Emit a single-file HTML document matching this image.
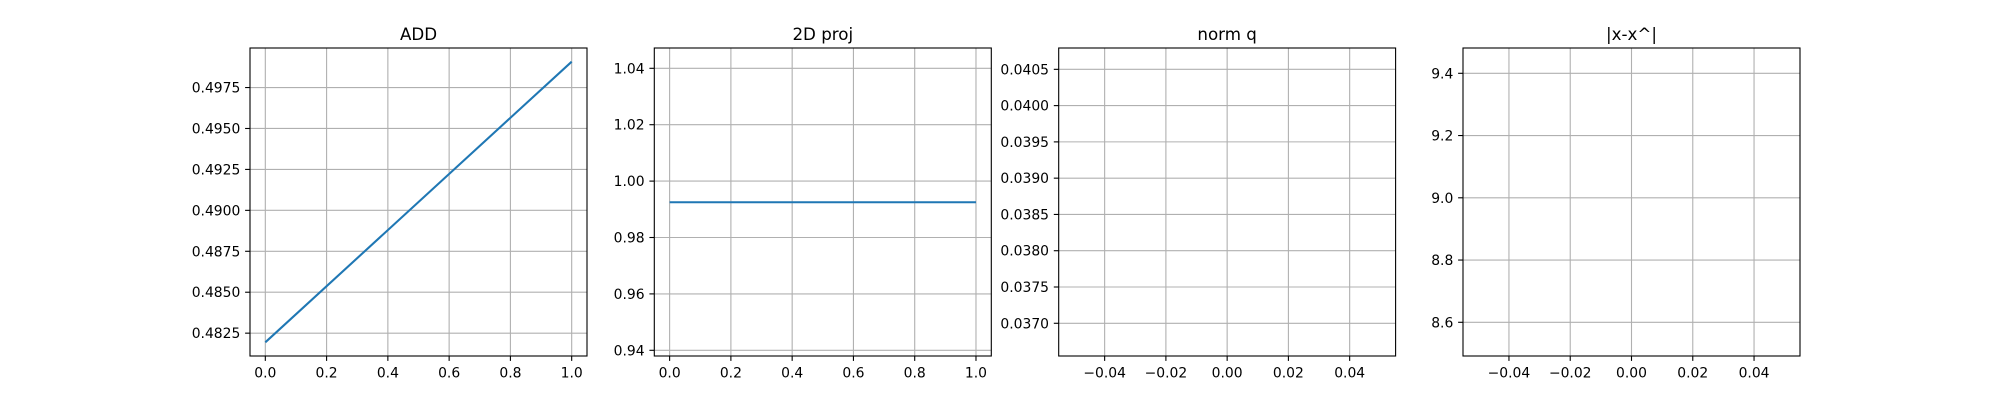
<!DOCTYPE html>
<html><head><meta charset="utf-8"><style>
html,body{margin:0;padding:0;background:#fff;}
svg{display:block;font-family:"DejaVu Sans","Liberation Sans",sans-serif;}
</style></head><body>
<svg id="fig" width="2000" height="400" viewBox="0 0 2000 400" xmlns="http://www.w3.org/2000/svg">
<rect width="2000" height="400" fill="#fff"/>
</svg>
<script>
const titles = ["ADD", "2D proj", "norm q", "|x-x^|"];
const addX = [0, 1];
const addY = [0.48194, 0.49908];
const projX = [0, 1];
const projY = [0.9925, 0.9925];
const normX = [];
const normY = [];
const errX = [];
const errY = [];
const xTicks01 = [0, 0.2, 0.4, 0.6, 0.8, 1.0];
const xTicks01Labels = ["0.0","0.2","0.4","0.6","0.8","1.0"];
const xTicksSmall = [-0.04, -0.02, 0, 0.02, 0.04];
const xTicksSmallLabels = ["\u22120.04","\u22120.02","0.00","0.02","0.04"];
const addTicks = [0.4825,0.485,0.4875,0.49,0.4925,0.495,0.4975];
const addTickLabels = ["0.4825","0.4850","0.4875","0.4900","0.4925","0.4950","0.4975"];
const projTicks = [0.94,0.96,0.98,1.00,1.02,1.04];
const projTickLabels = ["0.94","0.96","0.98","1.00","1.02","1.04"];
const normTicks = [0.037,0.0375,0.038,0.0385,0.039,0.0395,0.04,0.0405];
const normTickLabels = ["0.0370","0.0375","0.0380","0.0385","0.0390","0.0395","0.0400","0.0405"];
const errTicks = [8.6,8.8,9.0,9.2,9.4];
const errTickLabels = ["8.6","8.8","9.0","9.2","9.4"];

const NS = "http://www.w3.org/2000/svg";
const svgRoot = document.getElementById("fig");
function mk(tag, attrs, parent){
  const e = document.createElementNS(NS, tag);
  for (const k in attrs) e.setAttribute(k, attrs[k]);
  (parent||svgRoot).appendChild(e);
  return e;
}
const panels = [
  {x0:250, x1:587, xlim:[-0.05,1.05], ylim:[0.481105,0.499915], xt:xTicks01, xl:xTicks01Labels, yt:addTicks, yl:addTickLabels, xs:addX, ys:addY, name:"add"},
  {x0:654.3, x1:991.3, xlim:[-0.05,1.05], ylim:[0.93798,1.0472], xt:xTicks01, xl:xTicks01Labels, yt:projTicks, yl:projTickLabels, xs:projX, ys:projY, name:"proj"},
  {x0:1058.7, x1:1395.6, xlim:[-0.055,0.055], ylim:[0.036549,0.040794], xt:xTicksSmall, xl:xTicksSmallLabels, yt:normTicks, yl:normTickLabels, xs:normX, ys:normY, name:"norm-q"},
  {x0:1463, x1:1800, xlim:[-0.055,0.055], ylim:[8.4917,9.4813], xt:xTicksSmall, xl:xTicksSmallLabels, yt:errTicks, yl:errTickLabels, xs:errX, ys:errY, name:"error"}
];
const plotTop = 48, plotBot = 356;
panels.forEach((p, i) => {
  const g = mk("g", {});
  
  
  const sx = v => p.x0 + (v - p.xlim[0]) / (p.xlim[1] - p.xlim[0]) * (p.x1 - p.x0);
  const sy = v => plotBot - (v - p.ylim[0]) / (p.ylim[1] - p.ylim[0]) * (plotBot - plotTop);
  p.xt.forEach((t, j) => {
    const x = sx(t);
    const gl = mk("line", {x1:x, x2:x, y1:plotTop, y2:plotBot, stroke:"#b0b0b0", "stroke-width":1.1}, g);
    
    
    mk("line", {x1:x, x2:x, y1:plotBot, y2:plotBot+4.9, stroke:"#000", "stroke-width":1.1}, g);
    const tx = mk("text", {x:x, y:plotBot+21.5, "font-size":13.9, "text-anchor":"middle", fill:"#000"}, g);
    
    
    tx.textContent = p.xl[j];
  });
  p.yt.forEach((t, j) => {
    const y = sy(t);
    const gl = mk("line", {x1:p.x0, x2:p.x1, y1:y, y2:y, stroke:"#b0b0b0", "stroke-width":1.1}, g);
    
    
    mk("line", {x1:p.x0-4.9, x2:p.x0, y1:y, y2:y, stroke:"#000", "stroke-width":1.1}, g);
    const ty = mk("text", {x:p.x0-9.7, y:y+5, "font-size":13.9, "text-anchor":"end", fill:"#000"}, g);
    
    
    ty.textContent = p.yl[j];
  });
  if (p.xs.length > 1) {
    const pts = p.xs.map((x, k) => sx(x) + "," + sy(p.ys[k])).join(" ");
    const ln = mk("polyline", {points:pts, fill:"none", stroke:"#1f77b4", "stroke-width":2.08}, g);
    
    
  }
  const fr = mk("rect", {x:p.x0, y:plotTop, width:p.x1-p.x0, height:plotBot-plotTop, fill:"none", stroke:"#000", "stroke-width":1.1}, g);
  
  
  const tt = mk("text", {x:(p.x0+p.x1)/2, y:plotTop-8, "font-size":16.7, "text-anchor":"middle", fill:"#000"}, g);
  
  
  tt.textContent = titles[i];
});
</script>
</body></html>
